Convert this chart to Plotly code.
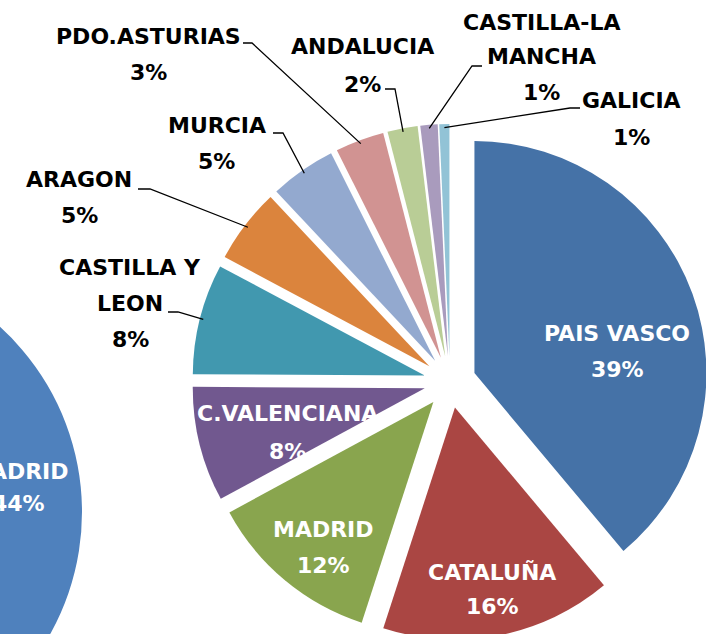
import math
import plotly.graph_objects as go

# ---------------- data ----------------
LABELS = ["PAIS VASCO", "CATALUÑA", "MADRID", "C.VALENCIANA", "CASTILLA Y LEON",
          "ARAGON", "MURCIA", "PDO.ASTURIAS", "ANDALUCIA", "CASTILLA-LA MANCHA", "GALICIA"]
VALUES = [38.9, 16.1, 12.1, 8.0, 7.7, 5.2, 4.6, 3.4, 2.1, 1.2, 0.7]
COLORS = ["#4572A7", "#AA4643", "#89A54E", "#71588F", "#4198AF",
          "#DB843D", "#93A9CF", "#D19392", "#B9CD96", "#A99BBD", "#92C3D6"]

LEFT_LABELS = ["MADRID", "RESTO"]
LEFT_VALUES = [44, 56]
LEFT_COLORS = ["#4F81BD", "#C0504D"]

# text lines used for each label
LABEL_LINES = {
    "CASTILLA Y LEON": ["CASTILLA Y", "LEON"],
    "CASTILLA-LA MANCHA": ["CASTILLA-LA", "MANCHA"],
}

# ---------------- layout geometry (screen pixels) ----------------
OFF = 430            # part of the figure hidden to the left of the window
WF, HF = OFF + 720, 770
CX, CY, R = 450, 382, 232
PULL = 26 / 232
LCX, LCY, LR = -168, 512, 250

FONT = "DejaVu Sans"
FS = 22

# label centre of first line, line spacing, inside?
LABEL_POS = {
    "PAIS VASCO": (617, 333, 36, True),
    "CATALUÑA": (492, 572, 34, True),
    "MADRID": (324, 529, 36, True),
    "C.VALENCIANA": (287, 413, 38, True),
    "CASTILLA Y LEON": (130, 267, 36, False),
    "ARAGON": (79, 180, 35, False),
    "MURCIA": (217, 125, 36, False),
    "PDO.ASTURIAS": (148, 36.5, 35.5, False),
    "ANDALUCIA": (362, 46, 39, False),
    "CASTILLA-LA MANCHA": (541, 22, 35, False),
    "GALICIA": (631, 100, 37, False),
}
LEADER_STUBS = {
    "PDO.ASTURIAS": ((243, 43), (252, 43)),
    "MURCIA": ((273, 133), (283, 133)),
    "ARAGON": ((138, 189), (150, 189)),
    "CASTILLA Y LEON": ((168, 312), (178, 312)),
    "ANDALUCIA": ((385, 89), (395, 89)),
    "CASTILLA-LA MANCHA": ((482, 66), (472, 66)),
    "GALICIA": ((580, 108), (570, 108)),
}


def px(x):
    return (x + OFF) / WF


def py(y):
    return 1 - y / HF


fig = go.Figure()

fig.add_trace(go.Pie(
    labels=LEFT_LABELS, values=LEFT_VALUES, sort=False, direction="clockwise", rotation=0,
    marker=dict(colors=LEFT_COLORS, line=dict(width=0)), textinfo="none", hoverinfo="skip",
    domain=dict(x=[px(LCX - LR), px(LCX + LR)], y=[py(LCY + LR), py(LCY - LR)]),
    showlegend=False,
))

S = R * (1 + PULL)
fig.add_trace(go.Pie(
    labels=LABELS, values=VALUES, sort=False, direction="clockwise", rotation=0,
    pull=[PULL] * len(VALUES),
    marker=dict(colors=COLORS, line=dict(width=0)), textinfo="none", hoverinfo="label+percent",
    domain=dict(x=[px(CX - S), px(CX + S)], y=[py(CY + S), py(CY - S)]),
    showlegend=False,
))

total = sum(VALUES)
annotations = []
shapes = []
cum = 0.0
for lab, val in zip(LABELS, VALUES):
    mid = (cum + val / 2) / total * 360.0
    cum += val
    x0, y0, sp, inside = LABEL_POS[lab]
    lines = LABEL_LINES.get(lab, [lab]) + ["%d%%" % round(val / total * 100)]
    col = "white" if inside else "black"
    for k, t in enumerate(lines):
        annotations.append(dict(
            x=px(x0), y=py(y0 + k * sp), xref="paper", yref="paper", text=t, showarrow=False,
            xanchor="center", yanchor="middle",
            font=dict(family=FONT, size=FS, color=col, weight="bold"),
        ))
    if lab in LEADER_STUBS:
        (ax, ay), (bx, by) = LEADER_STUBS[lab]
        th = math.radians(mid)
        d = (PULL + 0.985) * R
        ex, ey = CX + d * math.sin(th), CY - d * math.cos(th)
        shapes.append(dict(
            type="path", xref="paper", yref="paper",
            path="M %f %f L %f %f L %f %f" % (px(ax), py(ay), px(bx), py(by), px(ex), py(ey)),
            line=dict(color="black", width=1.3),
        ))

# label of the partially visible left pie (cut by the window edge, as in the reference)
lv = LEFT_VALUES[0] / sum(LEFT_VALUES) * 100
for k, t in enumerate([LEFT_LABELS[0], "%d%%" % round(lv)]):
    annotations.append(dict(
        x=px(18), y=py(471 + k * 32), xref="paper", yref="paper", text=t, showarrow=False,
        xanchor="center", yanchor="middle",
        font=dict(family=FONT, size=FS, color="white", weight="bold"),
    ))

fig.update_layout(
    width=WF, height=HF, margin=dict(l=0, r=0, t=0, b=0),
    paper_bgcolor="white", plot_bgcolor="white",
    annotations=annotations, shapes=shapes,
)

post = (
    "document.body.style.margin='0';document.body.style.overflow='hidden';"
    "var gd=document.getElementById('{plot_id}');gd.style.marginLeft='-%dpx';" % OFF
)
fig.write_html("out.html", post_script=post, config={"displayModeBar": False})
